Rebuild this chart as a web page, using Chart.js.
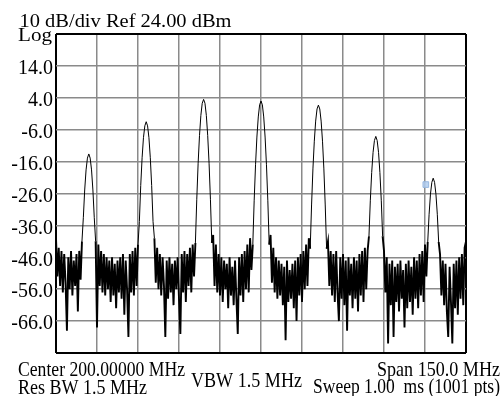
<!DOCTYPE html>
<html lang="en">
<head>
    <meta charset="UTF-8">
    <title>Spectrum trace</title>
    <style>
        body {
            margin: 0;
            background-color: #ffffff;
        }
        canvas {
            display: block;
        }
    </style>
    <script src="https://cdn.jsdelivr.net/npm/chart.js"></script>
</head>
<body>
    <canvas id="spectrum" width="501" height="396"></canvas>

    <script>
        // Sweep: 125 MHz to 275 MHz, one reading every 0.5 MHz
        const freqStart = 125;
        const freqStep = 0.5;
        const freqMin = 125;
        const freqMax = 275;
        const refLevel = 24;
        const bottomLevel = -76;
        const dbPerDiv = 10;
        const mhzPerDiv = 15;

        // trace levels in dBm
        const traceDbm = [
            // floor left of first tone
            -40, -52, -43, -55, -44, -57, -45, -54, -69, -46, -56, -44, -58, -47, -55, -45, -63, -44, -53, -41,
            // tone 1
            -33.6, -24.9, -18.6, -14.9, -13.6, -14.9, -18.6, -24.9, -33.6,
            -41, -68, -42, -55, -44, -57, -45, -58, -46, -56, -47, -60, -46, -58, -48, -62,
            -47, -57, -46, -59, -45, -64, -47, -56, -71, -45, -57, -44, -58, -43, -55, -42,
            // tone 2
            -34.8, -23.5, -14.8, -8.5, -4.8, -3.5, -4.8, -8.5, -14.8, -23.5, -34.8,
            -40, -54, -43, -56, -45, -58, -46, -55, -71, -47, -59, -46, -57, -48, -61,
            -47, -56, -46, -59, -70, -45, -57, -44, -60, -45, -55, -43, -57, -42, -52,
            // tone 3
            -41.5, -27.8, -16.5, -7.8, -1.5, 2.3, 3.5, 2.3, -1.5, -7.8, -16.5, -27.8, -41.5,
            -39, -55, -42, -57, -45, -58, -46, -60, -47, -56, -48, -62, -46, -58, -49,
            -61, -47, -59, -70, -46, -58, -45, -60, -44, -56, -42, -57, -40, -50,
            // tone 4
            -42, -28.3, -17, -8.3, -2, 1.8, 3.0, 1.8, -2, -8.3, -17, -28.3, -42,
            -39, -54, -43, -57, -46, -59, -47, -58, -48, -61, -49, -72, -47, -60, -50,
            -59, -48, -62, -47, -66, -46, -58, -45, -60, -44, -56, -42, -55, -40,
            // tone 5
            -43.3, -29.6, -18.3, -9.6, -3.3, 0.5, 1.7, 0.5, -3.3, -9.6, -18.3, -29.6, -43.3,
            -41, -55, -44, -58, -45, -60, -44, -57, -66, -46, -59, -45, -61, -47, -69,
            -46, -58, -48, -62, -46, -59, -47, -63, -45, -58, -44, -60, -43, -56, -44,
            // tone 6
            -39.4, -28.1, -19.4, -13.1, -9.4, -8.1, -9.4, -13.1, -19.4, -28.1, -39.4,
            -44, -57, -46, -73, -48, -61, -47, -71, -49, -60, -48, -63, -47, -59, -50, -68,
            -48, -62, -47, -60, -49, -64, -46, -59, -47, -62, -45, -58, -44, -60, -42, -52,
            // tone 7
            -41.2, -32.5, -26.2, -22.5, -21.2, -22.5, -26.2, -32.5, -41.2,
            -45, -58, -47, -61, -48, -63, -71, -49, -60, -73, -48, -62, -47, -64, -46, -59, -45, -61, -43, -41
        ];

        // the little marker box sitting left of tone 7
        const markerFreq = [260.3];
        const markerDbm = [-23.2];

        const headerText = '10 dB/div Ref 24.00 dBm';
        // [text, left x, baseline y, width, font size]
        const footerText = [
            ['Center 200.00000 MHz', 18, 376, 167, 22],
            ['Res BW 1.5 MHz', 18, 394, 129, 22],
            ['VBW 1.5 MHz', 191, 387, 111, 20],
            ['Span 150.0 MHz', 377, 376, 123, 22],
            ['Sweep 1.00  ms (1001 pts)', 313, 393, 187, 22]
        ];

        const serif = '"Liberation Serif", "Times New Roman", serif';
        const floorTop = -38; // segments wholly below this are noise floor

        let traceData = traceDbm.map((v, i) => ({ x: freqStart + i * freqStep, y: v }));
        let markerData = markerFreq.map((f, i) => ({ x: f, y: markerDbm[i] }));

        function fitText(ctx, text, x, y, width, size) {
            ctx.font = size + 'px ' + serif;
            let w = ctx.measureText(text).width;
            ctx.save();
            ctx.translate(x, y);
            ctx.scale(width / w, 1);
            ctx.fillText(text, 0, 0);
            ctx.restore();
        }

        const screenText = {
            id: 'screenText',
            afterDraw(chart) {
                let ctx = chart.ctx;
                ctx.save();
                ctx.fillStyle = '#000';
                ctx.textAlign = 'left';
                ctx.textBaseline = 'alphabetic';
                fitText(ctx, headerText, 19.5, 26.5, 212, 18);
                fitText(ctx, 'Log', 18, 41, 34, 18);
                footerText.forEach(t => fitText(ctx, t[0], t[1], t[2], t[3], t[4]));
                ctx.restore();
            }
        };

        function edgeColor(ctx, lo, hi) {
            let v = ctx.tick ? ctx.tick.value : null;
            return (v === lo || v === hi) ? '#000' : '#8a8a8a';
        }
        function edgeWidth(ctx, lo, hi) {
            let v = ctx.tick ? ctx.tick.value : null;
            return (v === lo || v === hi) ? 2 : 1.5;
        }

        let ctx = document.getElementById('spectrum').getContext('2d');
        let chart = new Chart(ctx, {
            type: 'line',
            data: {
                datasets: [{
                    data: traceData,
                    borderColor: '#000',
                    borderWidth: 1,
                    pointRadius: 0,
                    tension: 0,
                    fill: false,
                    segment: {
                        // the floor is swept densely on the real screen, so draw it heavier
                        borderWidth: s => Math.max(s.p0.parsed.y, s.p1.parsed.y) < floorTop ? 1.9 : 1
                    }
                }, {
                    type: 'scatter',
                    data: markerData,
                    pointStyle: 'rect',
                    pointRadius: 4,
                    backgroundColor: 'rgba(176, 204, 238, 0.85)',
                    borderColor: '#98b8e0',
                    borderWidth: 1,
                    showLine: false
                }]
            },
            options: {
                responsive: false,
                animation: false,
                events: [],
                layout: {
                    padding: { top: 34, right: 35, bottom: 0, left: 0 }
                },
                plugins: {
                    legend: { display: false },
                    tooltip: { enabled: false }
                },
                scales: {
                    x: {
                        type: 'linear',
                        min: freqMin,
                        max: freqMax,
                        ticks: { display: false, stepSize: mhzPerDiv },
                        grid: {
                            drawTicks: false,
                            color: c => edgeColor(c, freqMin, freqMax),
                            lineWidth: c => edgeWidth(c, freqMin, freqMax)
                        },
                        border: { display: false },
                        afterFit: scale => { scale.height = 43; }
                    },
                    y: {
                        min: bottomLevel,
                        max: refLevel,
                        ticks: {
                            stepSize: dbPerDiv,
                            autoSkip: false,
                            padding: 3,
                            color: '#000',
                            font: { family: serif, size: 20, lineHeight: '6px' },
                            callback: v => (v === refLevel || v === bottomLevel) ? '' : ['', v.toFixed(1)]
                        },
                        grid: {
                            drawTicks: false,
                            color: c => edgeColor(c, bottomLevel, refLevel),
                            lineWidth: c => edgeWidth(c, bottomLevel, refLevel)
                        },
                        border: { display: false },
                        afterFit: scale => { scale.width = 56; }
                    }
                }
            },
            plugins: [screenText]
        });
    </script>
</body>
</html>
